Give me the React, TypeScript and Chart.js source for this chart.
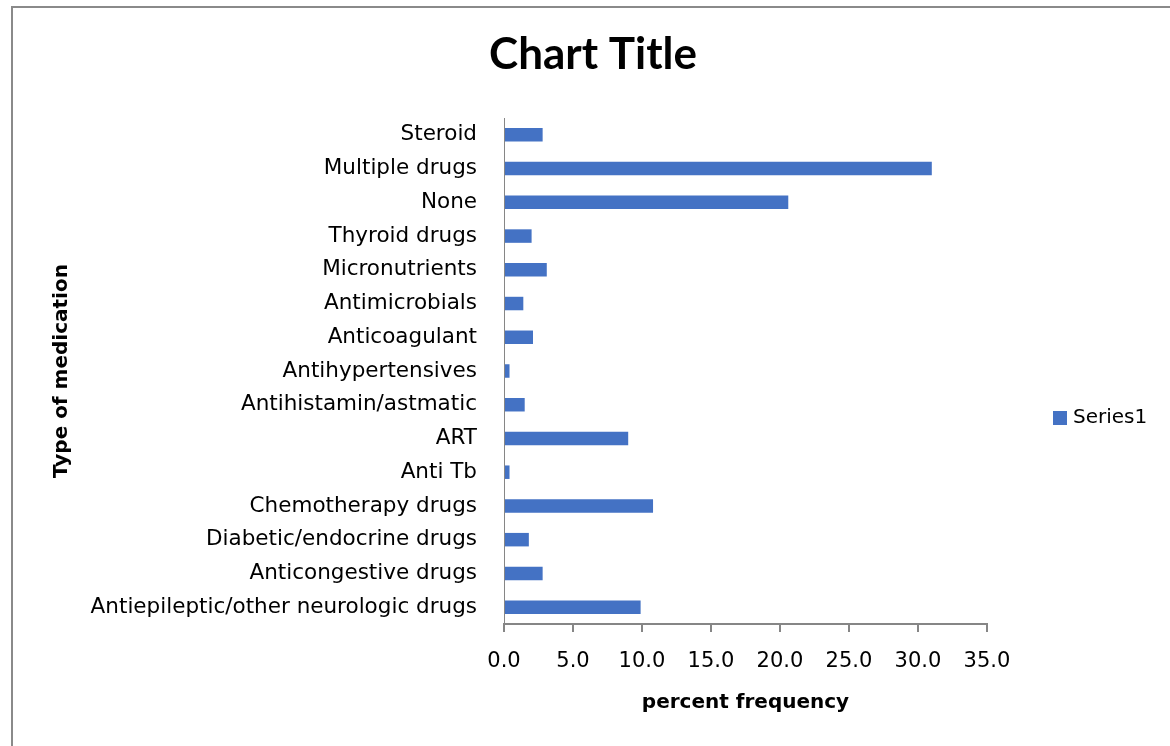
import React, { useEffect, useRef } from "react";
import { Chart, registerables } from "chart.js";

Chart.register(...registerables);

const categories = [
  "Steroid",
  "Multiple drugs",
  "None",
  "Thyroid drugs",
  "Micronutrients",
  "Antimicrobials",
  "Anticoagulant",
  "Antihypertensives",
  "Antihistamin/astmatic",
  "ART",
  "Anti Tb",
  "Chemotherapy drugs",
  "Diabetic/endocrine drugs",
  "Anticongestive drugs",
  "Antiepileptic/other neurologic drugs",
];

const seriesName = "Series1";
const seriesValues = [2.8, 31.0, 20.6, 2.0, 3.1, 1.4, 2.1, 0.4, 1.5, 9.0, 0.4, 10.8, 1.8, 2.8, 9.9];

const xMin = 0;
const xMax = 35;
const xStep = 5;

const chartTitle = "Chart Title";
const xAxisTitle = "percent frequency";
const yAxisTitle = "Type of medication";

const BAR_COLOR = "#4472C4";
const AXIS_COLOR = "#868686";
const LABEL_FONT = "'DejaVu Sans', 'Noto Sans', sans-serif";

const sideLegend = {
  id: "sideLegend",
  afterDraw(chart: any) {
    const ds = chart.data.datasets[0];
    const ctx = chart.ctx as CanvasRenderingContext2D;
    const area = chart.chartArea;
    const bx = area.right + 66;
    const cy = (area.top + area.bottom) / 2 + 47;
    const size = 14;
    ctx.save();
    ctx.fillStyle = ds.backgroundColor;
    ctx.fillRect(bx, cy - size / 2, size, size);
    ctx.fillStyle = "#000";
    ctx.font = `20px ${LABEL_FONT}`;
    ctx.textAlign = "left";
    ctx.textBaseline = "middle";
    ctx.fillText(ds.label, bx + size + 6, cy);
    ctx.restore();
  },
};

export default function App() {
  const canvasRef = useRef<HTMLCanvasElement | null>(null);

  useEffect(() => {
    if (!canvasRef.current) return;
    const chart = new Chart(canvasRef.current, {
      type: "bar",
      data: {
        labels: categories,
        datasets: [
          {
            label: seriesName,
            data: seriesValues,
            backgroundColor: BAR_COLOR,
            borderWidth: 0,
            barPercentage: 0.4,
            categoryPercentage: 1,
          },
        ],
      },
      options: {
        indexAxis: "y",
        animation: false,
        responsive: false,
        devicePixelRatio: 1,
        layout: { padding: { left: 16, right: 0, top: 0, bottom: 0 } },
        plugins: {
          legend: { display: false },
          tooltip: { enabled: false },
          title: {
            display: true,
            text: chartTitle,
            color: "#000",
            font: { family: "Lato, 'DejaVu Sans', sans-serif", size: 44, weight: "bold" },
            padding: { top: 28.6, bottom: 36.6 },
          },
        },
        scales: {
          x: {
            min: xMin,
            max: xMax,
            grid: {
              display: true,
              drawOnChartArea: false,
              drawTicks: true,
              tickLength: 8,
              color: AXIS_COLOR,
              lineWidth: 2,
            },
            border: { display: true, color: AXIS_COLOR, width: 2 },
            ticks: {
              stepSize: xStep,
              padding: 17,
              color: "#000",
              font: { family: LABEL_FONT, size: 21 },
              callback: (v: any) => Number(v).toFixed(1),
            },
            title: {
              display: true,
              text: xAxisTitle,
              color: "#000",
              font: { family: LABEL_FONT, size: 20, weight: "bold" },
              padding: { top: 0, bottom: 31 },
            },
            afterFit: (s: any) => {
              s.height = 122;
              s.paddingRight = 183;
            },
          },
          y: {
            grid: { display: false, drawTicks: false },
            border: { display: true, color: AXIS_COLOR, width: 1 },
            ticks: {
              padding: 27,
              color: "#000",
              font: { family: LABEL_FONT, size: 21.5 },
              autoSkip: false,
            },
            title: {
              display: true,
              text: yAxisTitle,
              color: "#000",
              font: { family: LABEL_FONT, size: 20, weight: "bold" },
              padding: { top: 34, bottom: 0 },
            },
            afterFit: (s: any) => {
              s.width = 488;
            },
          },
        },
      },
      plugins: [sideLegend],
    } as any);
    return () => chart.destroy();
  }, []);

  return (
    <div style={{ position: "fixed", left: 0, top: 0, width: 1170, height: 746, background: "#fff", overflow: "hidden" }}>
      <canvas ref={canvasRef} width={1170} height={746} style={{ position: "absolute", left: 0, top: 0 }} />
      <div
        style={{
          position: "absolute",
          left: 11,
          top: 6,
          right: 0,
          bottom: 0,
          borderTop: "2px solid #8a8a8a",
          borderLeft: "2px solid #8a8a8a",
          pointerEvents: "none",
        }}
      />
    </div>
  );
}
